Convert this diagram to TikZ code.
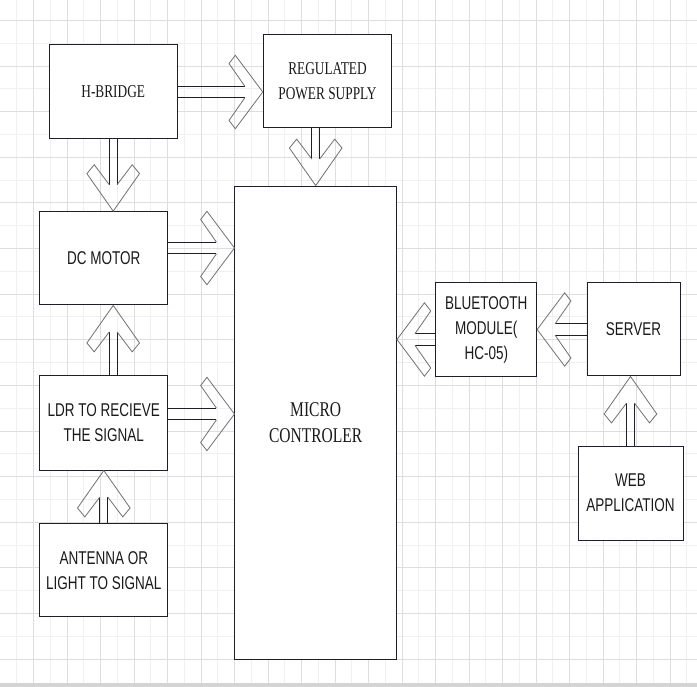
\documentclass[tikz,border=0pt]{standalone}
\usepackage{fontspec}
\newfontfamily\sfc[FakeStretch=0.73]{Liberation Sans}
\newfontfamily\rmc[FakeStretch=0.74]{Liberation Serif}
\usetikzlibrary{calc}
\definecolor{boxc}{HTML}{1E1E2A}
\definecolor{chev}{HTML}{707070}
\definecolor{gmin}{HTML}{F0F0F0}
\definecolor{gmaj}{HTML}{DEDEDE}
\definecolor{txt}{HTML}{1A1A1A}
\definecolor{band}{HTML}{D4D4D4}
\tikzset{
  box/.style={draw=boxc, line width=1pt, fill=white, inner sep=0pt, align=center, text=txt},
  sans/.style={font=\sfc\fontsize{18.5}{25}\selectfont},
  serif/.style={font=\rmc\fontsize{18}{25}\selectfont},
  shaft/.style={draw=boxc, line width=1.1pt},
  chevron/.style={draw=chev, line width=0.8pt, line join=miter},
  gridminor/.style={draw=gmin, line width=0.8pt},
  gridmajor/.style={draw=gmaj, line width=0.8pt}
}
% #1 start, #2 tip, #3/#4 outer (along/perp), #5/#6 back, #7 inner along, #8 shaft half width
\newcommand{\barrow}[8]{%
  \draw[shaft] ($(#1)!#8!90:(#2)$) -- ($(#2)!#7!(#1)!#8!90:(#2)$);
  \draw[shaft] ($(#1)!#8!-90:(#2)$) -- ($(#2)!#7!(#1)!#8!-90:(#2)$);
  \draw[chevron] ($(#2)!#7!(#1)!#8!90:(#2)$) -- ($(#2)!#5!(#1)!#6!90:(#2)$)
     -- ($(#2)!#3!(#1)!#4!90:(#2)$) -- (#2) -- ($(#2)!#3!(#1)!#4!-90:(#2)$)
     -- ($(#2)!#5!(#1)!#6!-90:(#2)$) -- ($(#2)!#7!(#1)!#8!-90:(#2)$);
}
\newcommand{\harrow}[2]{\barrow{#1}{#2}{27.5pt}{36.7pt}{33.8pt}{28.5pt}{18pt}{5.8pt}}
\newcommand{\varrow}[2]{\barrow{#1}{#2}{37.5pt}{26.3pt}{46.4pt}{19pt}{26.5pt}{3.9pt}}
\begin{document}
\begin{tikzpicture}[x=1pt,y=-1pt]
\useasboundingbox (0,0) rectangle (697,687);
\fill[white] (0,0) rectangle (697,687);
% grid
\foreach \k in {1,3,...,41} \draw[gridminor] ({16.75*\k},0) -- ({16.75*\k},683.3);
\foreach \k in {1,3,...,27} \draw[gridminor] (0,{20.5+22.8*\k}) -- (697,{20.5+22.8*\k});
\foreach \k in {2,4,...,40} \draw[gridmajor] ({16.75*\k},0) -- ({16.75*\k},683.3);
\foreach \k in {0,2,...,28} \draw[gridmajor] (0,{20.5+22.8*\k}) -- (697,{20.5+22.8*\k});
\fill[band] (0,683.3) rectangle (697,687);
% boxes
\node[box,serif,minimum width=127.7pt,minimum height=94pt] (hb) at (113.2,92) {H-BRIDGE};
\node[box,serif,minimum width=128.4pt,minimum height=92.7pt] (rps) at (327.5,80.7) {REGULATED\\POWER SUPPLY};
\node[box,sans,minimum width=127.7pt,minimum height=93.3pt] (dc) at (103.8,258.3) {DC MOTOR};
\node[box,sans,minimum width=127.7pt,minimum height=94pt] (ldr) at (103.8,423) {LDR TO RECIEVE\\THE SIGNAL};
\node[box,sans,minimum width=127.7pt,minimum height=92.7pt] (ant) at (103.8,570.3) {ANTENNA OR\\LIGHT TO SIGNAL};
\node[box,font=\rmc\fontsize{21}{26}\selectfont,minimum width=161.5pt,minimum height=473.3pt] (mc) at (315.7,422.7) {MICRO\\CONTROLER};
\node[box,sans,minimum width=100.7pt,minimum height=94pt] (bt) at (486.3,329.7) {BLUETOOTH\\MODULE(\\HC-05)};
\node[box,sans,minimum width=93pt,minimum height=93pt] (srv) at (633.5,329.5) {SERVER};
\node[box,sans,minimum width=105pt,minimum height=94pt] (web) at (630.5,493) {WEB\\APPLICATION};
% arrow anchor coordinates
\coordinate (a4s) at ($(dc.east)+(0,-10.3)$);
\coordinate (a4t) at (mc.west |- a4s);
\coordinate (a6s) at ($(ldr.east)+(0,-9)$);
\coordinate (a6t) at (mc.west |- a6s);
\coordinate (a8s) at ($(bt.west)+(0,9.8)$);
\coordinate (a8t) at (mc.east |- a8s);
\coordinate (a1t) at (rps.west |- hb.east);
\coordinate (a2s) at (rps.south -| mc.north);
\coordinate (a3t) at (dc.north -| hb.south);
\coordinate (a5s) at (ldr.north -| hb.south);
\coordinate (a5t) at (dc.south -| hb.south);
\coordinate (a7t) at (ldr.south -| ant.north);
\coordinate (a9t) at (bt.east |- srv.west);
\coordinate (a10t) at (srv.south -| web.north);
% arrows
\harrow{hb.east}{a1t}
\varrow{a2s}{mc.north}
\varrow{hb.south}{a3t}
\harrow{a4s}{a4t}
\varrow{a5s}{a5t}
\harrow{a6s}{a6t}
\varrow{ant.north}{a7t}
\harrow{a8s}{a8t}
\harrow{srv.west}{a9t}
\varrow{web.north}{a10t}
\end{tikzpicture}
\end{document}
